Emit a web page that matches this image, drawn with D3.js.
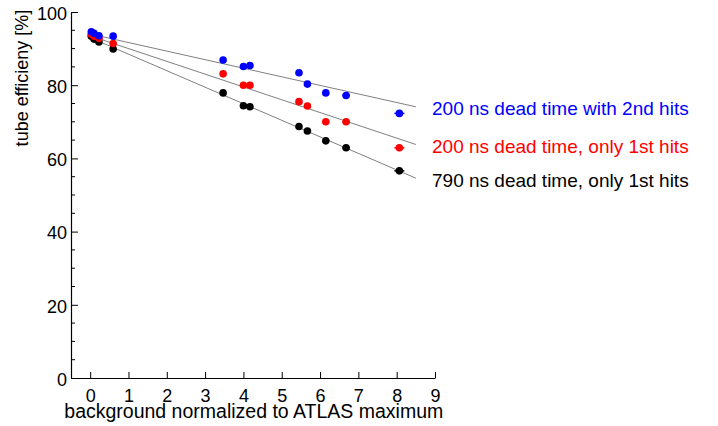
<!DOCTYPE html>
<html>
<head>
<meta charset="utf-8">
<script src="https://cdn.jsdelivr.net/npm/d3@7"></script>
<style>
  body { margin: 0; background: #fff; }
  text { font-family: "Liberation Sans", Arial, sans-serif; }
</style>
</head>
<body>
<svg id="svg1" width="718" height="426"></svg>
<script>
// background values (x) shared by all three series
var bgValues = [0.03, 0.1, 0.23, 0.6, 3.47, 4.0, 4.17, 5.45, 5.67, 6.15, 6.68, 8.07];
var bgErrors = [0, 0, 0, 0, 0.05, 0.06, 0.06, 0.08, 0.08, 0.09, 0.1, 0.13];

var eff200with2nd = [94.6, 94.2, 93.5, 93.4, 86.9, 85.1, 85.4, 83.4, 80.3, 77.9, 77.2, 72.3];
var eff200only1st = [93.9, 93.4, 92.8, 91.4, 83.1, 80.0, 80.0, 75.5, 74.3, 70.0, 70.0, 62.9];
var eff790only1st = [93.4, 92.6, 91.8, 89.9, 77.9, 74.4, 74.1, 68.7, 67.5, 64.8, 62.9, 56.6];

// straight line fits: [efficiency at 0, efficiency at 8.5]
var fitRange = [0, 8.5];
var fit200with2nd = [94.0, 74.1];
var fit200only1st = [93.5, 63.8];
var fit790only1st = [93.0, 54.6];

var seriesNames = ['200 ns dead time with 2nd hits', '200 ns dead time, only 1st hits', '790 ns dead time, only 1st hits'];
var seriesColors = ['#0000ff', '#ff0000', '#000000'];

var xTicks = [0, 1, 2, 3, 4, 5, 6, 7, 8, 9];
var yTicks = [0, 20, 40, 60, 80, 100];

var marginLeft = 71;
var marginTop = 12;
var plotW = 364;
var plotH = 366;

var svg = d3.select('svg')
    .append('g')
    .attr('transform', 'translate(' + marginLeft + ',' + marginTop + ')');

var x = d3.scaleLinear().domain([-0.5, 9]).range([0, plotW]);
var y = d3.scaleLinear().domain([0, 100]).range([plotH, 0]);

// axes, ticks pointing inwards
var xAxis = svg.append('g')
    .attr('transform', 'translate(0,' + plotH + ')')
    .call(d3.axisBottom(x).tickValues(xTicks).tickSize(-6).tickPadding(11).tickSizeOuter(0));
var yAxis = svg.append('g')
    .call(d3.axisLeft(y).tickValues(yTicks).tickSize(-7).tickPadding(4).tickSizeOuter(0));
// minor y ticks every 5
yAxis.selectAll('.minor')
    .data(d3.range(5, 100, 5).filter(function(v){ return v % 20 != 0; }))
    .enter().append('line')
    .attr('class', 'minor')
    .attr('x1', 0).attr('x2', 4)
    .attr('y1', function(d){ return y(d); })
    .attr('y2', function(d){ return y(d); })
    .attr('stroke', '#000');

svg.selectAll('.domain').attr('stroke', '#000').attr('stroke-width', 1.2);
svg.selectAll('.tick line').attr('stroke', '#000');
xAxis.selectAll('text').attr('font-size', 18).attr('fill', '#000')
    .attr('font-family', '"Liberation Sans", Arial, sans-serif');
yAxis.selectAll('text').attr('font-size', 18).attr('fill', '#000').attr('dy', '0.4em')
    .attr('font-family', '"Liberation Sans", Arial, sans-serif');

// axis titles
svg.append('text')
    .attr('x', x(4.27))
    .attr('y', plotH + 40)
    .attr('text-anchor', 'middle')
    .attr('font-size', 19.5)
    .text('background normalized to ATLAS maximum');
svg.append('text')
    .attr('transform', 'translate(' + (-43) + ',' + 66 + ') rotate(-90)')
    .attr('text-anchor', 'middle')
    .attr('font-size', 18)
    .text('tube efficieny [%]');

var allSeries = [eff200with2nd, eff200only1st, eff790only1st];
var allFits = [fit200with2nd, fit200only1st, fit790only1st];

// fit lines
svg.selectAll('.fit')
    .data(allFits)
    .enter()
    .append('line')
    .attr('class', 'fit')
    .attr('x1', x(fitRange[0]))
    .attr('x2', x(fitRange[1]))
    .attr('y1', function(d){ return y(d[0]); })
    .attr('y2', function(d){ return y(d[1]); })
    .attr('stroke', '#808080')
    .attr('stroke-width', 1);

// points with horizontal error bars, drawn back to front
[2, 1, 0].forEach(function(s) {
    var pts = allSeries[s].map(function(v, i){ return {x: bgValues[i], e: bgErrors[i], y: v}; });
    var g = svg.append('g');
    g.selectAll('line')
        .data(pts)
        .enter()
        .append('line')
        .attr('x1', function(d){ return x(d.x - d.e); })
        .attr('x2', function(d){ return x(d.x + d.e); })
        .attr('y1', function(d){ return y(d.y); })
        .attr('y2', function(d){ return y(d.y); })
        .attr('stroke', seriesColors[s])
        .attr('stroke-width', 1.5);
    g.selectAll('circle')
        .data(pts)
        .enter()
        .append('circle')
        .attr('cx', function(d){ return x(d.x); })
        .attr('cy', function(d){ return y(d.y); })
        .attr('r', 3.8)
        .attr('fill', seriesColors[s]);
});

// series labels
var labelY = [103, 141, 175];
svg.selectAll('.lab')
    .data(seriesNames)
    .enter()
    .append('text')
    .attr('class', 'lab')
    .attr('x', 361)
    .attr('y', function(d, i){ return labelY[i]; })
    .attr('font-size', 19)
    .attr('fill', function(d, i){ return seriesColors[i]; })
    .text(function(d){ return d; });
</script>
</body>
</html>
